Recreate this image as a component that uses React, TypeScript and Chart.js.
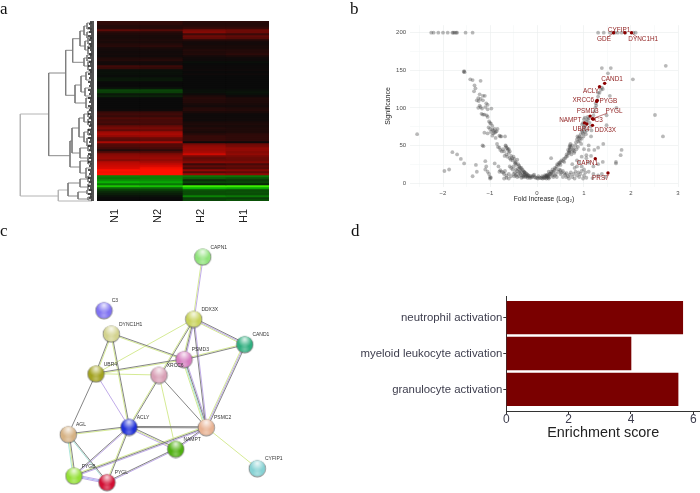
import React, { useEffect, useRef } from "react";
import { Chart, registerables } from "chart.js";
Chart.register(...registerables);

const SANS = "'Liberation Sans', Arial, sans-serif";

// ---------- panel a : heat map ----------
const heatColumns = ["N1", "N2", "H2", "H1"];
const heatN1 = [16,14,10,12,34,12,8,6,6,8, 6,10,12,5,4,3,4,3,8,10, 4,4,22,18,-2,-3,-2,-1,-5,-6, 0,0,0,-4,-24,-22,-6,-10,0,0, 0,0,0,0,2,18,22,18,28,22, 25,20,38,45,35,60,65,55,35,32, 65,30,28,22,10,30,50,55,58,50, 70,75,80,85,100,95,100,-50,-45,-55, -70,-45,-78,-35,-20,-12,-8,-3,0,0];
const heatN2 = [16,14,10,12,30,12,8,6,6,8, 6,10,14,6,4,3,4,3,8,12, 4,4,20,16,-2,-3,-2,-1,-5,-6, 0,0,0,-4,-24,-22,-6,-10,0,0, 0,0,0,0,2,18,22,18,28,24, 25,22,38,45,38,60,65,58,38,35, 65,30,30,25,14,30,48,55,60,55, 65,75,85,95,100,100,100,-50,-50,-55, -65,-45,-75,-35,-20,-12,-8,-3,0,0];
const heatH2 = [12,10,12,18,45,50,22,40,35,10, 4,4,6,6,10,8,10,4,2,2, -2,0,1,1,2,0,2,0,0,0, 0,0,0,0,-2,-3,2,8,12,10, 10,6,4,10,12,6,2,2,3,2, 6,8,6,10,8,6,12,18,18,18, 2,45,55,60,60,65,80,45,35,40, 50,20,35,25,55,30,60,-45,-35,-15, -25,-10,-95,-70,-30,-28,-28,-50,-22,-25];
const heatH1 = [12,10,12,18,40,40,20,35,30,10, 4,4,6,6,10,10,14,6,2,2, -2,0,1,1,2,0,2,0,0,0, 0,0,0,0,-2,-4,-2,2,8,8, 8,6,4,8,10,6,2,2,3,3, 6,8,6,8,8,8,14,15,15,15, 2,40,45,55,55,50,55,45,40,40, 48,25,35,30,50,35,55,-45,-30,-20, -25,-12,-95,-65,-28,-30,-28,-45,-22,-30];

// dendrogram brackets: [x, yTop, yBottom, armTopEndX, armBottomEndX]
const dendroDark = [
  [48.7,73,155.7,65.7,70],[65.7,50.3,95.3,72.7,75],[72.7,38.7,62.3,80,84],[80,31,46,84,85],
  [84,26,35,87,87],[85,41,50,88,88],[84,58,66,87,88],[75,85,103,81,86],[81,76,92,86,85],
  [87,23,29,92,92],[87,32,38,92,92],[88,38,44,92,92],[88,46,54,92,92],[87,55,61,92,92],[88,62,70,92,92],
  [86,72,80,92,92],[85,88,96,92,92],[86,98,108,92,92],
  [70,141,167,72,80],[72,128,153,79,80],[79,118,137,84,84],[84,114,122,88,88],[88,111,117,92,92],[88,119,125,92,92],
  [84,132,142,88,87],[88,129,135,92,92],[87,138,146,92,92],[80,148,158,88,88],[88,145,151,92,92],[88,155,161,92,92],
  [80,161,173,88,86],[88,158,164,92,92],[86,168,178,92,92],
  [68,183,196,80,78],[80,179,187,88,88],[88,176,182,92,92],[88,184,190,92,92],[78,192,199,87,88],[87,190,194,92,92],[88,197,200,92,92],
];
const dendroLight = [[20.3,114,196,48.7,58.3],[58.3,190,201,68,92]];
const leafStart = [90,89,90,88,90,89,91,88,90,89, 91,89,90,88,90,91,89,90,88,91, 89,90,88,91,89,90,88,90,89,91, 88,90,89,91,88,90,89,91,88,90, 89,91,88,90,89,91,88,90,89,91, 88,90,89,91,88,90,89,91,88,90, 89,91,88,90,89,91,88,90,89,91, 88,90,89,91,88,90,89,91,88,90, 89,91,88,90,89,91,88,90,89,91];

// ---------- panel b : volcano ----------
const volcanoTop = [[-2.25,200],[-2.2,200],[-2.1,200],[-2.0,200],[-1.9,200],[-1.8,200],[-1.78,200],[-1.75,200],[-1.72,200],[-1.7,200],[-1.52,200],[-1.37,200],[1.3,200],[1.42,200],[1.55,200],[1.62,200],[1.66,200],[1.72,200],[1.8,200],[1.88,200],[2.05,200],[2.1,200]];
const volcanoOutliers = [[2.74,156],[2.04,138],[2.51,90.5],[2.68,62],[-2.55,65],[1.38,153],[1.57,153],[1.51,146],[1.55,116],[1.69,100],[1.48,90],[1.48,77]];
const volcanoLeftArm = [[-1.55,149],[-1.56,148],[-1.54,147.5],[-1.42,138],[-1.37,137],[-1.2,136],[-1.33,130],[-1.31,126],[-1.34,122],[-1.22,118],[-1.15,116],[-1.11,116],[-1.25,113],[-1.2,112],[-1.28,110],[-1.24,109],[-1.15,110],[-1.08,106],[-1.05,104],[-1.1,101],[-1.22,103],[-1.2,101],[-1.17,99],[-1.25,100],[-1.05,98],[-0.97,99],[-1.18,92],[-1.15,91],[-1.12,91],[-1.07,90],[-1.05,88],[-1.02,82],[-1.0,80],[-0.98,79],[-0.95,76],[-1.03,74],[-1.0,72],[-0.95,71],[-0.93,70],[-0.9,72],[-0.88,68],[-0.9,67],[-0.93,66],[-0.98,68],[-1.12,67],[-1.05,66],[-0.86,69],[-0.84,72],[-0.8,63],[-0.78,62],[-0.76,62],[-0.68,62],[-0.95,63],[-0.88,60],[-1.16,50],[-1.14,49],[-0.85,52],[-0.83,48],[-0.8,47],[-0.78,44],[-0.75,42],[-0.72,45],[-0.7,42],[-0.67,50],[-0.66,49],[-0.65,47],[-0.63,46],[-0.62,44],[-0.6,45],[-0.58,42],[-0.6,40],[-0.65,38],[-0.69,36],[-0.63,35],[-0.58,33],[-0.55,36],[-0.53,33],[-0.5,35],[-0.52,30],[-0.48,32],[-0.47,27],[-0.45,28],[-0.42,31],[-0.4,25],[-0.44,24],[-0.38,23],[-0.36,20],[-0.4,19],[-0.33,20],[-0.3,17],[-0.35,16],[-0.28,15],[-0.26,14],[-0.3,13],[-0.24,13],[-0.22,12],[-0.2,11],[-0.56,31],[-0.46,26],[-0.37,21],[-0.32,18],[-0.27,14.5]];
const volcanoLeftCloud = [[-1.8,41],[-1.7,38],[-1.62,32],[-1.55,26],[-1.97,16],[-1.87,18],[-1.3,24],[-1.28,15],[-1.37,9],[-1.1,29],[-1.08,22],[-1.1,18],[-1.05,15],[-1.02,12],[-1.0,8],[-1.0,6],[-0.98,7],[-0.9,26],[-0.82,22],[-0.78,17],[-0.8,15],[-0.75,15],[-0.72,14],[-0.7,12],[-0.68,16],[-0.65,10],[-0.6,12],[-0.58,22],[-0.55,20],[-0.55,9],[-0.5,22],[-0.5,12],[-0.48,9],[-0.45,18],[-0.45,10],[-0.42,16],[-0.42,8],[-0.38,15],[-0.38,9],[-0.35,11],[-0.33,7],[-0.3,10],[-0.3,8],[-0.27,11],[-0.25,8],[-0.22,9],[-0.2,7],[-0.65,7],[-0.6,6],[-0.7,6],[-0.52,18],[-0.47,14],[-0.43,12],[-0.36,13],[-0.28,9],[-0.24,10],[-0.19,9],[-0.16,7]];
const volcanoCenter = [[-0.18,10],[-0.15,9],[-0.12,9],[-0.1,8],[-0.08,10],[-0.05,8],[-0.03,7],[0,7],[0.02,6],[0.05,7],[0.08,6.5],[0.1,7],[0.12,6],[0.15,6.5],[0.17,7],[0.18,9],[0.2,6],[0.2,8],[0.22,11],[0.23,7],[0.25,6],[0.25,10],[-0.13,7],[-0.06,11],[0.03,9],[0.11,9],[0.14,8],[0.17,10.5],[0.21,9.5],[0.24,8.5],[0.26,12],[0.27,7.5]];
const volcanoRightArm = [[0.28,12],[0.3,15],[0.32,14],[0.33,18],[0.35,15],[0.37,17],[0.38,20],[0.4,19],[0.42,22],[0.43,25],[0.45,24],[0.47,27],[0.48,26],[0.5,28],[0.52,30],[0.5,24],[0.55,29],[0.57,32],[0.58,28],[0.6,33],[0.62,35],[0.63,38],[0.65,36],[0.67,40],[0.68,42],[0.7,44],[0.69,48],[0.7,50],[0.71,52],[0.7,46],[0.72,48],[0.74,42],[0.75,50],[0.77,44],[0.78,46],[0.8,42],[0.82,50],[0.84,45],[0.87,48],[0.88,55],[0.85,58],[0.88,60],[0.9,62],[0.92,60],[0.95,59],[0.86,62],[0.93,65],[0.95,70],[0.97,68],[0.98,66],[1.0,72],[1.02,68],[1.04,65],[1.0,75],[1.03,76],[0.96,78],[0.98,80],[1.05,82],[1.08,84],[1.0,85],[1.02,87],[1.08,88],[1.1,86],[1.12,80],[1.14,75],[1.16,70],[1.15,62],[1.2,90],[1.22,95],[1.24,100],[1.26,103],[1.25,106],[1.28,110],[1.3,115],[1.33,120],[1.36,124],[1.38,127],[1.4,125],[1.3,120],[0.69,40],[0.66,44],[0.73,38],[0.79,40],[0.83,54],[0.91,56],[0.94,52],[1.06,70],[0.99,62]];
const volcanoRightCloud = [[0.3,33],[0.2,10],[0.25,15],[0.3,12],[0.33,10],[0.35,8],[0.38,10],[0.4,12],[0.42,8],[0.45,15],[0.47,18],[0.5,17],[0.5,12],[0.52,14],[0.55,16],[0.55,8],[0.58,13],[0.6,11],[0.62,8],[0.63,13],[0.66,9],[0.68,6],[0.7,11],[0.72,14],[0.75,8],[0.78,12],[0.8,6],[0.82,15],[0.85,10],[0.85,22],[0.88,14],[0.9,8],[0.92,12],[0.95,16],[0.98,6],[1.0,10],[1.03,14],[1.05,7],[0.75,25],[0.8,20],[1.1,50],[1.0,45],[1.1,44],[1.22,44],[1.3,47],[1.41,52],[1.8,44],[1.78,37],[1.68,28],[1.68,26],[1.4,28],[1.3,25],[1.2,22],[1.05,37],[0.95,35],[0.85,30],[0.9,27],[0.95,22],[1.0,18],[1.1,15],[1.2,12],[1.3,10],[1.38,12],[1.45,8],[1.18,6.5],[1.05,33],[1.15,36],[1.1,27]];
const volcanoNames = ["CYFIP1","GDE","DYNC1H1","CAND1","ACLY","XRCC6","PYGB","PSMD3","PYGL","C3","NAMPT","UBR4","DDX3X","CAPN1","PRS7"];
const volcanoRedX = [1.63,1.87,2.01,1.44,1.33,1.27,1.28,1.13,1.18,1.2,1.01,1.06,1.18,1.24,1.51];
const volcanoRedY = [200,200,200,132.6,128,108.6,110,89,85.6,85,80,78.5,76.7,32.4,13.3];
const volcanoLabelX = [1.745,1.425,2.26,1.596,1.149,0.986,1.518,1.078,1.638,1.312,0.709,0.943,1.454,1.07,1.348];
const volcanoLabelY = [203.5,191,191,138,121.5,109.5,109,95.8,95,83,83.4,71.4,70.5,26,7];
const volcanoLinks = [[1,1.5,194,1.63,200],[2,2.13,194,2.01,200],[8,1.5,93,1.18,85.6]];
const volcanoXTicks = [-2.5,-2,-1.5,-1,-0.5,0,0.5,1,1.5,2,2.5,3];
const volcanoYTicks = [0,25,50,75,100,125,150,175,200];

// ---------- panel c : network ----------
const nodeNames = ["CAPN1","C3","DDX3X","CAND1","DYNC1H1","PSMD3","UBR4","XRCC6","ACLY","PSMC2","AGL","NAMPT","PYGB","PYGL","CYFIP1"];
const nodeX = [202.7,104,193.7,244.7,111.3,184,96,159,129,206.3,68.3,175.7,74,107,257.3];
const nodeY = [256.7,310.3,319,344.3,333.7,359.3,373.7,375,427,427.3,434.3,449,475.7,482.3,468.3];
const nodeColors = ["#8fe37a","#7f72f2","#c8d25a","#2fae7f","#d3d38e","#d67cc0","#a2a21e","#d9a0b6","#1f30d8","#e8b292","#d6b284","#4fb010","#93e034","#d20f33","#86d2d4"];
const edgeList = [
  ["CAPN1","DDX3X","PY"],["DDX3X","CAND1","DPY"],["DDX3X","PSMD3","PDY"],["DDX3X","PSMC2","PD"],["DDX3X","ACLY","DY"],["DDX3X","UBR4","Y"],
  ["CAND1","PSMD3","DY"],["CAND1","PSMC2","DPY"],["DYNC1H1","PSMD3","DY"],["DYNC1H1","UBR4","YD"],["DYNC1H1","ACLY","DY"],["UBR4","PSMD3","DY"],
  ["UBR4","XRCC6","Y"],["UBR4","ACLY","P"],["UBR4","AGL","D"],["XRCC6","PSMC2","D"],["XRCC6","NAMPT","Y"],["PSMD3","PSMC2","PDTY"],
  ["ACLY","PSMC2","DD"],["ACLY","AGL","YD"],["ACLY","NAMPT","DYP"],["ACLY","PYGB","PD"],["ACLY","PYGL","DY"],["AGL","PYGB","DYT"],["AGL","PYGL","DT"],
  ["PYGB","PYGL","PBP"],["PSMC2","PYGB","PDY"],["PSMC2","NAMPT","PD"],["NAMPT","PYGL","PD"],["PSMC2","CYFIP1","Y"],
];
const edgeColors: any = { D: "#777777", P: "#b9a2e6", Y: "#d0e888", T: "#a3e3d6", B: "#9bb0f2" };

// ---------- panel d : bars ----------
const barTerms = ["neutrophil activation", "myeloid leukocyte activation", "granulocyte activation"];
const barScores = [5.66, 4.0, 5.51];

const toPts = (list: number[][]) => list.map(([x, y]) => ({ x, y }));

function heatColor(v: number) {
  if (v >= 0) return `rgb(${Math.round(10 + v * 2.45)},${v > 90 ? 16 : 10},${Math.round(10 - v * 0.1)})`;
  const a = -v;
  return `rgb(${Math.round(10 + (a > 70 ? (a - 70) * 2 : 0))},${Math.round(10 + a * 2.4)},${Math.round(10 - a * 0.1)})`;
}

function sphere(color: string) {
  const c = document.createElement("canvas");
  c.width = 19; c.height = 19;
  const g = c.getContext("2d")!;
  const cx = 9.5, cy = 9.5, r = 8;
  g.beginPath(); g.arc(cx, cy + 0.4, r + 0.7, 0, 7); g.fillStyle = "rgba(70,70,70,0.65)"; g.fill();
  g.beginPath(); g.arc(cx, cy, r, 0, 7); g.fillStyle = color; g.fill();
  const hi = g.createRadialGradient(cx, cy - 5, 0.5, cx, cy - 4, 7);
  hi.addColorStop(0, "rgba(255,255,255,0.8)"); hi.addColorStop(1, "rgba(255,255,255,0)");
  g.beginPath(); g.arc(cx, cy, r, 0, 7); g.fillStyle = hi; g.fill();
  const lo = g.createRadialGradient(cx, cy + 5, 0.5, cx, cy + 5, 5);
  lo.addColorStop(0, "rgba(255,255,255,0.3)"); lo.addColorStop(1, "rgba(255,255,255,0)");
  g.beginPath(); g.arc(cx, cy, r, 0, 7); g.fillStyle = lo; g.fill();
  return c;
}

function bracketPath(list: number[][]) {
  const out: any[] = [];
  list.forEach(([x, y1, y2, a, b]) => {
    out.push({ x: a, y: y1 }, { x, y: y1 }, { x, y: y2 }, { x: b, y: y2 }, { x: null, y: null });
  });
  return out;
}

function dendroConfig(): any {
  const leaves: any[] = [];
  leafStart.forEach((s, i) => leaves.push({ x: s, y: 22 + 2 * i }, { x: 94, y: 22 + 2 * i }, { x: null, y: null }));
  const line = (data: any[], color: string, w: number) => ({ data, borderColor: color, borderWidth: w, showLine: true, pointRadius: 0, spanGaps: false });
  return {
    type: "scatter",
    data: { datasets: [line(leaves, "#1c1c1c", 1.3), line(bracketPath(dendroDark), "#7c7c7c", 0.9), line(bracketPath(dendroLight), "#b4b4b4", 1)] },
    options: {
      responsive: false, animation: false, layout: { autoPadding: false }, plugins: { legend: { display: false }, tooltip: { enabled: false } },
      scales: { x: { display: false, min: 0, max: 97 }, y: { display: false, min: 0, max: 210, reverse: true } },
    },
  };
}

function heatConfig(): any {
  const datasets = heatN1.map((_, i) => ({
    data: [[i, i + 1], [i, i + 1], [i, i + 1], [i, i + 1]],
    backgroundColor: [heatN1[i], heatN2[i], heatH2[i], heatH1[i]].map(heatColor),
    borderWidth: 0, barPercentage: 1, categoryPercentage: 1, grouped: false,
  }));
  return {
    type: "bar",
    data: { labels: heatColumns, datasets },
    options: {
      responsive: false, animation: false, layout: { padding: { left: 7, right: 11, top: 6 } },
      plugins: { legend: { display: false }, tooltip: { enabled: false } },
      scales: {
        y: { display: false, min: 0, max: 90, reverse: true },
        x: {
          afterFit: (s: any) => { s.height = 29; },
          border: { display: false }, grid: { display: false, drawTicks: false },
          ticks: { minRotation: 90, maxRotation: 90, labelOffset: -4, padding: 8, color: "#222", font: { family: SANS, size: 11 } },
        },
      },
    },
  };
}

function volcanoConfig(): any {
  const gray = [...volcanoTop, ...volcanoOutliers, ...volcanoLeftArm, ...volcanoLeftCloud, ...volcanoCenter, ...volcanoRightArm, ...volcanoRightCloud];
  const red = volcanoRedX.map((x, i) => ({ x, y: volcanoRedY[i] }));
  const links: any[] = [];
  volcanoLinks.forEach(([, x1, y1, x2, y2]) => links.push({ x: x1, y: y1 }, { x: x2, y: y2 }, { x: null, y: null }));
  const labelPlugin = {
    id: "volcanoLabels",
    afterDatasetsDraw(chart: any) {
      const { ctx, scales } = chart;
      ctx.save();
      ctx.font = `6.4px ${SANS}`; ctx.fillStyle = "#8e1c1c"; ctx.textAlign = "center"; ctx.textBaseline = "middle";
      volcanoNames.forEach((n, i) => ctx.fillText(n, scales.x.getPixelForValue(volcanoLabelX[i]), scales.y.getPixelForValue(volcanoLabelY[i])));
      ctx.restore();
    },
  };
  const tickFont = { family: SANS, size: 6 };
  return {
    type: "scatter",
    plugins: [labelPlugin],
    data: {
      datasets: [
        { data: red, backgroundColor: "#8b0000", pointRadius: 1.7, borderWidth: 0, order: 1 },
        { data: links, showLine: true, borderColor: "#8e1c1c", borderWidth: 0.6, pointRadius: 0, spanGaps: false, order: 2 },
        { data: toPts(gray), backgroundColor: "rgba(60,60,60,0.36)", pointRadius: 1.9, borderWidth: 0, order: 3 },
      ],
    },
    options: {
      responsive: false, animation: false, layout: { autoPadding: false, padding: { top: 10.2, right: 22 } },
      plugins: { legend: { display: false }, tooltip: { enabled: false } },
      scales: {
        x: {
          min: -2.7, max: 3,
          afterFit: (s: any) => { s.height = 23.24; },
          afterBuildTicks: (s: any) => { s.ticks = volcanoXTicks.map((value) => ({ value })); },
          border: { display: false },
          grid: { drawTicks: false, lineWidth: 0.6, color: (c: any) => (Number.isInteger(c.tick?.value) ? "#e9ecec" : "#f4f6f6") },
          ticks: { autoSkip: false, maxRotation: 0, padding: 3, color: "#4d4d4d", font: tickFont, callback: (v: number) => (Number.isInteger(v) ? String(v).replace("-", "−") : "") },
          title: { display: true, text: "Fold Increase (Log₂)", color: "#222", font: { family: SANS, size: 6.7 }, padding: { top: 0, bottom: 6.8 } },
        },
        y: {
          min: -5, max: 210,
          afterFit: (s: any) => { s.width = 30.1; },
          afterBuildTicks: (s: any) => { s.ticks = volcanoYTicks.map((value) => ({ value })); },
          border: { display: false },
          grid: { drawTicks: false, lineWidth: 0.6, color: (c: any) => ((c.tick?.value ?? 0) % 50 === 0 ? "#e9ecec" : "#f4f6f6") },
          ticks: { autoSkip: false, padding: 4, color: "#4d4d4d", font: tickFont, callback: (v: number) => (v % 50 === 0 ? String(v) : "") },
          title: { display: true, text: "Significance", color: "#222", font: { family: SANS, size: 7 }, padding: { top: 3.5, bottom: 0 } },
        },
      },
    },
  };
}

function networkConfig(): any {
  const sprites = nodeColors.map(sphere);
  const byColor: any = {};
  edgeList.forEach(([a, b, kinds]) => {
    const i = nodeNames.indexOf(a), j = nodeNames.indexOf(b);
    const dx = nodeX[j] - nodeX[i], dy = nodeY[j] - nodeY[i], len = Math.hypot(dx, dy);
    const nx = -dy / len, ny = dx / len;
    kinds.split("").forEach((k, n) => {
      const off = (n - (kinds.length - 1) / 2) * 1.1;
      (byColor[k] = byColor[k] || []).push(
        { x: nodeX[i] + nx * off, y: nodeY[i] + ny * off },
        { x: nodeX[j] + nx * off, y: nodeY[j] + ny * off },
        { x: null, y: null },
      );
    });
  });
  const labelPlugin = {
    id: "nodeLabels",
    afterDatasetsDraw(chart: any) {
      const { ctx, scales } = chart;
      ctx.save();
      ctx.font = `5px ${SANS}`; ctx.fillStyle = "#333"; ctx.textAlign = "left"; ctx.textBaseline = "middle";
      nodeNames.forEach((n, i) => ctx.fillText(n, scales.x.getPixelForValue(nodeX[i] + 7.7), scales.y.getPixelForValue(nodeY[i] - 9.3)));
      ctx.restore();
    },
  };
  return {
    type: "scatter",
    plugins: [labelPlugin],
    data: {
      datasets: [
        { data: nodeX.map((x, i) => ({ x, y: nodeY[i] })), pointStyle: (c: any) => sprites[c.dataIndex], pointRadius: 8, order: 1 },
        ...Object.keys(byColor).map((k, i) => ({ data: byColor[k], showLine: true, borderColor: edgeColors[k], borderWidth: 0.9, pointRadius: 0, spanGaps: false, order: k === "D" ? 2 : 3 + i })),
      ],
    },
    options: {
      responsive: false, animation: false, layout: { autoPadding: false }, plugins: { legend: { display: false }, tooltip: { enabled: false } },
      scales: { x: { display: false, min: 0, max: 350 }, y: { display: false, min: 240, max: 493, reverse: true } },
    },
  };
}

function barConfig(): any {
  return {
    type: "bar",
    data: { datasets: [{ data: barScores.map((x, i) => ({ x, y: 3 - i })), backgroundColor: "#7a0000", borderWidth: 0, barThickness: 32.7 }] },
    options: {
      indexAxis: "y", responsive: false, animation: false,
      layout: { padding: { top: 11 } },
      plugins: { legend: { display: false }, tooltip: { enabled: false } },
      scales: {
        x: {
          min: 0, max: 6.214,
          afterFit: (s: any) => { s.height = 34; },
          afterBuildTicks: (s: any) => { s.ticks = [0, 2, 4, 6].map((value) => ({ value })); },
          border: { display: true, color: "#333", width: 1 },
          grid: { drawOnChartArea: false, color: "#333", tickLength: 3 },
          ticks: { autoSkip: false, maxRotation: 0, padding: -2, color: "#3d3d4d", font: { family: SANS, size: 12 } },
          title: { display: true, text: "Enrichment score", color: "#222", font: { family: SANS, size: 14.4 }, padding: { top: 0, bottom: 3.4 } },
        },
        y: {
          type: "linear", min: 0.4, max: 3.6, offset: false,
          afterFit: (s: any) => { s.width = 156.3; },
          afterBuildTicks: (s: any) => { s.ticks = [1, 2, 3].map((value) => ({ value })); },
          border: { display: true, color: "#333", width: 1 },
          grid: { offset: false, drawOnChartArea: false, color: "#333", tickLength: 3 },
          ticks: { autoSkip: false, padding: 1, color: "#3d3d4d", font: { family: SANS, size: 11.4 }, callback: (v: number) => barTerms[3 - v] ?? "" },
        },
      },
    },
  };
}

function Panel({ left, top, width, height, make, blur }: any) {
  const ref = useRef<HTMLCanvasElement>(null);
  useEffect(() => {
    const chart = new Chart(ref.current!, make());
    return () => chart.destroy();
  }, []);
  return <canvas ref={ref} width={width} height={height} style={{ position: "absolute", left, top, width, height, filter: blur ? `blur(${blur}px)` : undefined }} />;
}

const panelLetters = [["a", 0, 0], ["b", 350, 0], ["c", 0, 222], ["d", 351, 222]];

export default function App() {
  return (
    <div style={{ position: "absolute", left: 0, top: 0, width: 700, height: 493, overflow: "hidden", background: "#fff" }}>
      <Panel left={0} top={0} width={97} height={210} make={dendroConfig} blur={0.3} />
      <Panel left={90} top={15} width={190} height={215} make={heatConfig} blur={0.3} />
      <Panel left={380} top={15} width={320} height={195} make={volcanoConfig} blur={0.35} />
      <Panel left={0} top={240} width={350} height={253} make={networkConfig} blur={0.35} />
      <Panel left={350} top={285} width={350} height={160} make={barConfig} blur={0.25} />
      {panelLetters.map(([t, x, y]) => (
        <div key={t as string} style={{ position: "absolute", left: x as number, top: y as number, font: "17px 'Liberation Serif', serif", color: "#111", lineHeight: "17px" }}>{t}</div>
      ))}
    </div>
  );
}
